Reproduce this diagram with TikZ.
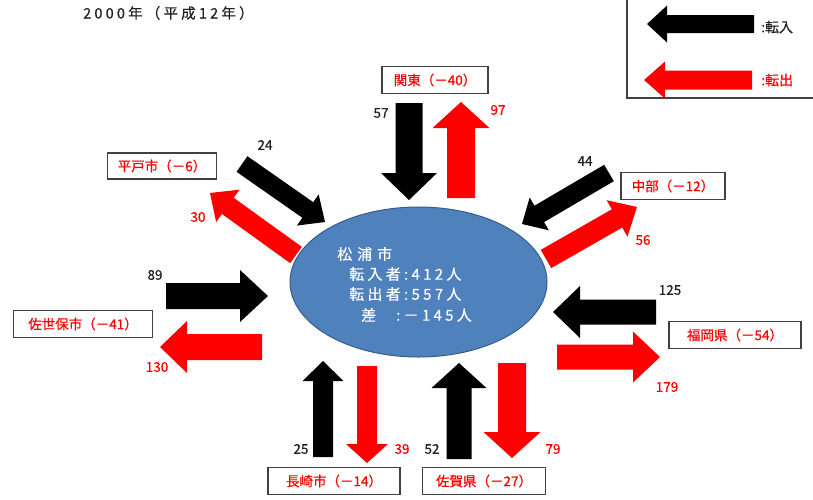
\documentclass[tikz,border=0pt]{standalone}
\usepackage{fontspec}
\setmainfont{Noto Sans CJK JP}[FakeBold=0.5]
\newfontfamily\spacedfont{Noto Sans CJK JP}[LetterSpace=22,FakeBold=0.5]
\newfontfamily\ellfont{Noto Sans CJK JP}[LetterSpace=22,FakeBold=0.4]
\usetikzlibrary{calc,shapes.geometric}
\definecolor{ellfill}{HTML}{4F81BD}
\definecolor{elldraw}{HTML}{385D8A}
\definecolor{boxdraw}{HTML}{404040}
\definecolor{txtred}{HTML}{FF0000}
\definecolor{txtblk}{HTML}{222222}
\newcommand\myblockarrow[6]{%
  \coordinate (mbaT) at (#2);
  \coordinate (mbaH) at (#3);
  \coordinate (mbaC) at ($(mbaH)!#6!(mbaT)$);
  \fill[#1] ($(mbaT)!#4!90:(mbaH)$) -- ($(mbaC)!#4!90:(mbaH)$) -- ($(mbaC)!#5!90:(mbaH)$) -- (mbaH) -- ($(mbaC)!#5!-90:(mbaH)$) -- ($(mbaC)!#4!-90:(mbaH)$) -- ($(mbaT)!#4!-90:(mbaH)$) -- cycle;
}
\tikzset{
  lbox/.style={draw=boxdraw, line width=1.2pt, fill=white, text=txtred, font=\fontsize{13.5}{15}\selectfont, minimum height=27pt, inner sep=0pt},
  numblk/.style={text=txtblk, font=\fontsize{13.5}{15}\selectfont, inner sep=0pt},
  numred/.style={text=txtred, font=\fontsize{13.5}{15}\selectfont, inner sep=0pt},
  elltext/.style={text=white, font=\ellfont\fontsize{15}{17}\selectfont, inner sep=0pt, anchor=west},
  inarrow/.style={black},
  outarrow/.style={txtred}
}
\begin{document}
\begin{tikzpicture}[x=1pt,y=-1pt]
\useasboundingbox (0,0) rectangle (813,499);
\clip (0,0) rectangle (813,499);
\fill[white] (0,0) rectangle (813,499);

% title
\node[anchor=west, inner sep=0pt, text=txtblk, font=\spacedfont\fontsize{14.5}{16}\selectfont] (title) at (83,13) {2000年（平成12年）};

% legend
\draw[boxdraw, line width=1.6pt] (627,-10) rectangle (830,98);
\coordinate (lgbt) at (754,24); \coordinate (lgbh) at (647,24);
\coordinate (lgrt) at (752,80); \coordinate (lgrh) at (644,80);
\myblockarrow{inarrow}{lgbt}{lgbh}{9pt}{18.5pt}{20pt}
\myblockarrow{outarrow}{lgrt}{lgrh}{9.5pt}{18.5pt}{21pt}
\node[anchor=west, inner sep=0pt, text=txtblk, font=\fontsize{14}{16}\selectfont] (lgin) at (761,27) {:転入};
\node[anchor=west, inner sep=0pt, text=txtred, font=\fontsize{14}{16}\selectfont] (lgout) at (761,80) {:転出};

% arrow end points
\coordinate (kbt) at (409,103); \coordinate (kbh) at (409,200);
\coordinate (krt) at (461,198); \coordinate (krh) at (461,102);
\coordinate (hbt) at (242,164); \coordinate (hbh) at (325,222);
\coordinate (hrt) at (296,255); \coordinate (hrh) at (210,193);
\coordinate (sbt) at (166,296); \coordinate (sbh) at (268,296);
\coordinate (srt) at (262,347); \coordinate (srh) at (160,347);
\coordinate (cbt) at (609,173); \coordinate (cbh) at (522,224);
\coordinate (crt) at (546,259); \coordinate (crh) at (637,207);
\coordinate (fbt) at (656,312); \coordinate (fbh) at (553,312);
\coordinate (frt) at (557,357); \coordinate (frh) at (660,357);
\coordinate (nbt) at (323,457); \coordinate (nbh) at (323,361);
\coordinate (nrt) at (367,366); \coordinate (nrh) at (367,463);
\coordinate (gbt) at (459,459); \coordinate (gbh) at (459,363);
\coordinate (grt) at (512,363); \coordinate (grh) at (512,458);

\myblockarrow{inarrow}{kbt}{kbh}{13.5pt}{28pt}{27pt}
\myblockarrow{outarrow}{krt}{krh}{14pt}{28.5pt}{26pt}
\myblockarrow{inarrow}{hbt}{hbh}{9.5pt}{19pt}{21pt}
\myblockarrow{outarrow}{hrt}{hrh}{10pt}{20pt}{22pt}
\myblockarrow{inarrow}{sbt}{sbh}{13pt}{26pt}{28pt}
\myblockarrow{outarrow}{srt}{srh}{13pt}{26pt}{27pt}
\myblockarrow{inarrow}{cbt}{cbh}{9.5pt}{19pt}{20pt}
\myblockarrow{outarrow}{crt}{crh}{10.5pt}{21pt}{23pt}
\myblockarrow{inarrow}{fbt}{fbh}{12.5pt}{26pt}{27pt}
\myblockarrow{outarrow}{frt}{frh}{12.5pt}{25.5pt}{27pt}
\myblockarrow{inarrow}{nbt}{nbh}{10pt}{20.5pt}{20pt}
\myblockarrow{outarrow}{nrt}{nrh}{10pt}{21pt}{19pt}
\myblockarrow{inarrow}{gbt}{gbh}{12.5pt}{27.5pt}{25pt}
\myblockarrow{outarrow}{grt}{grh}{14pt}{28.5pt}{26pt}

% central ellipse
\node[ellipse, fill=ellfill, draw=elldraw, line width=1pt, minimum width=257pt, minimum height=150pt, inner sep=0pt] (city) at (418.5,282) {};
\node[elltext] (cname) at (337,254) {松\hspace{5pt}浦\hspace{5pt}市};
\node[elltext] (cin) at (349,274) {転入者:412人};
\node[elltext] (cout) at (349,294) {転出者:557人};
\node[elltext] (cdiff) at (361,315) {差\hspace{20pt}:－145人};

% region boxes
\node[lbox, minimum width=106pt] (kanto) at (435,80) {関東（－40）};
\node[lbox, minimum width=109pt, minimum height=26pt] (hirado) at (162,166) {平戸市（－6）};
\node[lbox, minimum width=139pt] (sasebo) at (83,324) {佐世保市（－41）};
\node[lbox, minimum width=104pt] (chubu) at (673,186) {中部（－12）};
\node[lbox, minimum width=132pt] (fukuoka) at (735,335) {福岡県（－54）};
\node[lbox, minimum width=132pt] (nagasaki) at (334,481) {長崎市（－14）};
\node[lbox, minimum width=123pt] (saga) at (484,481) {佐賀県（－27）};

% numbers
\node[numblk] (n57) at (381,113) {57};
\node[numred] (n97) at (498,110) {97};
\node[numblk] (n24) at (265,145) {24};
\node[numred] (n30) at (198,217) {30};
\node[numblk] (n44) at (585,161) {44};
\node[numred] (n56) at (643,240) {56};
\node[numblk] (n89) at (155,275) {89};
\node[numred] (n130) at (157,367) {130};
\node[numblk] (n125) at (670,290) {125};
\node[numred] (n179) at (667,387) {179};
\node[numblk] (n25) at (301,449) {25};
\node[numred] (n39) at (402,449) {39};
\node[numblk] (n52) at (432,449) {52};
\node[numred] (n79) at (553,449) {79};
\end{tikzpicture}
\end{document}
